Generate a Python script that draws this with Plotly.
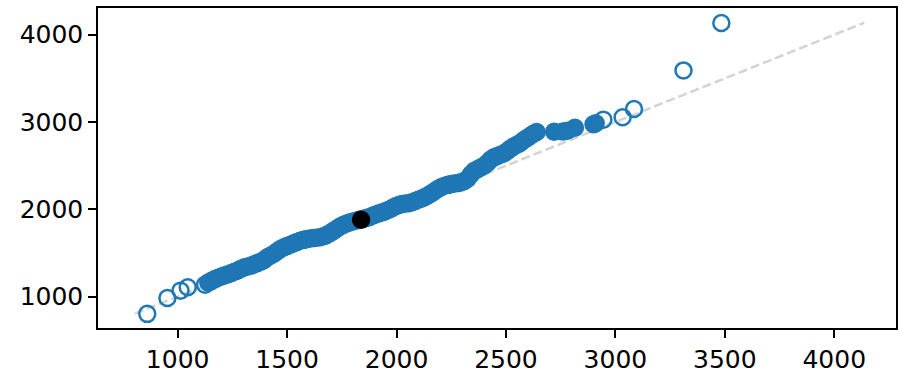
import plotly.graph_objects as go

# Open (outlier) points
open_x = [861, 953, 1013, 1046, 1125, 2945, 3033, 3085, 3311, 3484]
open_y = [802, 984, 1068, 1106, 1135, 3027, 3054, 3149, 3591, 4135]

# Filled points (dense band)
fill_x = [1140, 1155, 1170, 1185, 1200, 1215, 1230, 1245, 1260, 1275,
          1290, 1305, 1320, 1335, 1350, 1365, 1380, 1395, 1410, 1425,
          1440, 1455, 1470, 1485, 1500, 1515, 1530, 1545, 1560, 1575,
          1590, 1605, 1620, 1635, 1650, 1665, 1680, 1695, 1710, 1725,
          1740, 1755, 1770, 1785, 1800, 1815, 1830, 1845, 1860, 1875,
          1890, 1905, 1920, 1935, 1950, 1965, 1980, 1995, 2010, 2025,
          2040, 2055, 2070, 2085, 2100, 2115, 2130, 2145, 2160, 2175,
          2190, 2205, 2220, 2235, 2250, 2265, 2280, 2295, 2310, 2325,
          2340, 2355, 2370, 2385, 2400, 2415, 2430, 2445, 2460, 2475,
          2490, 2505, 2520, 2535, 2550, 2565, 2580, 2595, 2610, 2625,
          2640, 2720, 2760, 2780, 2815, 2900, 2910]
fill_y = [1160, 1180, 1200, 1215, 1230, 1245, 1255, 1270, 1285, 1300,
          1320, 1335, 1345, 1355, 1370, 1385, 1400, 1420, 1450, 1470,
          1490, 1520, 1545, 1565, 1580, 1595, 1610, 1625, 1640, 1650,
          1660, 1665, 1670, 1675, 1680, 1690, 1705, 1725, 1750, 1775,
          1800, 1820, 1835, 1850, 1860, 1870, 1880, 1890, 1900, 1910,
          1925, 1940, 1955, 1965, 1980, 1995, 2015, 2035, 2050, 2060,
          2065, 2070, 2080, 2095, 2110, 2125, 2140, 2160, 2185, 2210,
          2235, 2255, 2270, 2280, 2290, 2295, 2300, 2310, 2325, 2350,
          2400, 2440, 2460, 2480, 2500, 2530, 2570, 2595, 2610, 2625,
          2640, 2665, 2695, 2720, 2740, 2760, 2790, 2815, 2840, 2865,
          2885, 2888, 2890, 2900, 2935, 2975, 2985]

# Highlighted point
hi_x = [1838]
hi_y = [1881]

# Reference line endpoints
line_x = [805, 4137]
line_y = [805, 4137]

x_ticks = [1000, 1500, 2000, 2500, 3000, 3500, 4000]
y_ticks = [1000, 2000, 3000, 4000]

BLUE = "#1f77b4"

fig = go.Figure()
fig.add_trace(go.Scatter(x=line_x, y=line_y, mode="lines",
                         line=dict(color="#d3d3d3", width=2.5, dash="9px,4px"),
                         hoverinfo="skip"))
fig.add_trace(go.Scatter(x=open_x, y=open_y, mode="markers",
                         marker=dict(size=16, color="rgba(0,0,0,0)",
                                     line=dict(color=BLUE, width=2.5))))
fig.add_trace(go.Scatter(x=fill_x, y=fill_y, mode="markers",
                         marker=dict(size=16.5, color=BLUE,
                                     line=dict(color=BLUE, width=2))))
fig.add_trace(go.Scatter(x=hi_x, y=hi_y, mode="markers",
                         marker=dict(size=16.5, color="black",
                                     line=dict(color="black", width=2))))

axis_common = dict(showgrid=False, zeroline=False, showline=True,
                   linecolor="black", linewidth=1.5, mirror=True,
                   ticks="outside", ticklen=8, tickwidth=1.5,
                   tickcolor="black",
                   tickfont=dict(family="DejaVu Sans", size=25, color="black"))

fig.update_layout(
    width=900, height=376,
    margin=dict(l=98, r=2, t=8, b=45),
    paper_bgcolor="white", plot_bgcolor="white",
    showlegend=False,
    xaxis=dict(range=[636, 4282], tickvals=x_ticks,
               ticktext=[str(v) for v in x_ticks], **axis_common),
    yaxis=dict(range=[640, 4306], tickvals=y_ticks,
               ticktext=[str(v) for v in y_ticks], **axis_common),
)

fig.write_html("out.html")
